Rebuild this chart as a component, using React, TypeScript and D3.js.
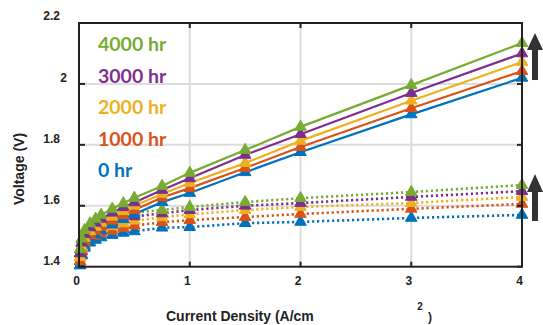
import React from 'react';
import * as d3 from 'd3';

const currents = [0.01, 0.025, 0.05, 0.1, 0.15, 0.2, 0.3, 0.4, 0.5, 0.75, 1, 1.5, 2, 3, 4];

const hours = ['0 hr', '1000 hr', '2000 hr', '3000 hr', '4000 hr'];
const colors = ['#0072BD', '#D95319', '#EDB120', '#7E2F8E', '#77AC30'];

// cell voltage (solid)
const cell0 = [1.405, 1.44, 1.468, 1.49, 1.505, 1.518, 1.538, 1.556, 1.573, 1.612, 1.642, 1.71, 1.776, 1.9, 2.02];
const cell1000 = [1.418, 1.453, 1.481, 1.503, 1.518, 1.531, 1.551, 1.569, 1.586, 1.627, 1.658, 1.724, 1.793, 1.92, 2.042];
const cell2000 = [1.431, 1.466, 1.494, 1.516, 1.531, 1.544, 1.564, 1.582, 1.6, 1.639, 1.675, 1.74, 1.813, 1.945, 2.072];
const cell3000 = [1.444, 1.479, 1.507, 1.529, 1.544, 1.557, 1.577, 1.595, 1.611, 1.652, 1.69, 1.767, 1.835, 1.97, 2.1];
const cell4000 = [1.457, 1.492, 1.52, 1.542, 1.557, 1.57, 1.59, 1.608, 1.626, 1.665, 1.708, 1.783, 1.859, 1.996, 2.134];

// iR-free voltage (dotted)
const irFree0 = [1.404, 1.437, 1.462, 1.479, 1.488, 1.496, 1.504, 1.511, 1.516, 1.528, 1.53, 1.543, 1.547, 1.56, 1.57];
const irFree1000 = [1.417, 1.45, 1.475, 1.492, 1.501, 1.509, 1.518, 1.527, 1.535, 1.546, 1.553, 1.563, 1.573, 1.59, 1.606];
const irFree2000 = [1.43, 1.463, 1.488, 1.505, 1.515, 1.523, 1.533, 1.542, 1.551, 1.562, 1.572, 1.586, 1.596, 1.609, 1.629];
const irFree3000 = [1.443, 1.476, 1.501, 1.518, 1.528, 1.537, 1.547, 1.556, 1.565, 1.575, 1.586, 1.6, 1.609, 1.629, 1.648];
const irFree4000 = [1.456, 1.489, 1.514, 1.531, 1.541, 1.55, 1.56, 1.569, 1.578, 1.586, 1.596, 1.612, 1.625, 1.645, 1.668];

const cellSeries = [cell0, cell1000, cell2000, cell3000, cell4000];
const irFreeSeries = [irFree0, irFree1000, irFree2000, irFree3000, irFree4000];

const xTicks = [0, 1, 2, 3, 4];
const yTicks = [1.4, 1.6, 1.8, 2, 2.2];

export default function App() {
  const W = 543, H = 325;
  const left = 79, right = 522, top = 23, bottom = 266.7;

  const x = d3.scaleLinear().domain([0, 4]).range([left, right]);
  const y = d3.scaleLinear().domain([1.4, 2.2]).range([bottom, top]);

  const line = d3.line<number>()
    .x((_, i) => x(currents[i]))
    .y((d) => y(d));

  const tri = d3.symbol(d3.symbolTriangle, 58)()!;

  const axisFont = '"Liberation Sans", Arial, sans-serif';

  const drawSeries = (vals: number[], color: string, dotted: boolean, key: string) => (
    <g key={key}>
      <path
        d={line(vals)!}
        fill="none"
        stroke={color}
        strokeWidth={dotted ? 2.6 : 2.2}
        strokeDasharray={dotted ? '2.2,2.8' : undefined}
      />
      {vals.map((v, i) => (
        <path
          key={i}
          d={tri}
          transform={`translate(${x(currents[i])},${y(v)})`}
          fill={color}
          stroke={color}
          strokeWidth={1}
        />
      ))}
    </g>
  );

  const arrow = (tipY: number, baseY: number, endY: number) => {
    const cx = 535;
    return (
      <path
        d={`M${cx},${tipY} L${cx + 8},${baseY} L${cx + 3},${baseY} L${cx + 3},${endY} L${cx - 3},${endY} L${cx - 3},${baseY} L${cx - 8},${baseY} Z`}
        fill="#333"
      />
    );
  };

  return (
    <svg width={W} height={H} style={{ position: 'absolute', left: 0, top: 0, background: '#fff' }}>
      <rect width={W} height={H} fill="#fff" />
      {/* grid */}
      {xTicks.slice(1, -1).map((t) => (
        <line key={'gx' + t} x1={x(t)} x2={x(t)} y1={top} y2={bottom} stroke="#dcdcdc" strokeWidth={2} />
      ))}
      {yTicks.slice(1, -1).map((t) => (
        <line key={'gy' + t} x1={left} x2={right} y1={y(t)} y2={y(t)} stroke="#dcdcdc" strokeWidth={2} />
      ))}

      {/* series */}
      {irFreeSeries.map((s, i) => drawSeries(s, colors[i], true, 'd' + i))}
      {cellSeries.map((s, i) => drawSeries(s, colors[i], false, 's' + i))}

      {/* frame + ticks */}
      <rect x={left} y={top} width={right - left} height={bottom - top} fill="none" stroke="#222" strokeWidth={2} />
      {xTicks.map((t) => (
        <g key={'tx' + t}>
          <line x1={x(t)} x2={x(t)} y1={bottom} y2={bottom - 5} stroke="#222" strokeWidth={2} />
          <line x1={x(t)} x2={x(t)} y1={top} y2={top + 5} stroke="#222" strokeWidth={2} />
          <text x={x(t) - 2.5} y={285} textAnchor="middle" fontFamily={axisFont} fontWeight="bold" fontSize={12} fill="#222">
            {t}
          </text>
        </g>
      ))}
      {yTicks.map((t) => (
        <g key={'ty' + t}>
          <line x1={left} x2={left + 6} y1={y(t)} y2={y(t)} stroke="#222" strokeWidth={2} />
          <line x1={right} x2={right - 5} y1={y(t)} y2={y(t)} stroke="#222" strokeWidth={2} />
          <text
            x={t === 2 ? 67 : 60}
            y={y(t) - (t === 2.2 ? 3 : 1.5)}
            textAnchor="end"
            fontFamily={axisFont}
            fontWeight="bold"
            fontSize={12}
            fill="#222"
          >
            {d3.format('~g')(t)}
          </text>
        </g>
      ))}

      {/* axis titles */}
      <text x={166} y={321} fontFamily={axisFont} fontWeight="bold" fontSize={14} fill="#222">
        Current Density (A/cm
      </text>
      <text x={420} y={310} textAnchor="middle" fontFamily={axisFont} fontWeight="bold" fontSize={10} fill="#222">
        2
      </text>
      <text x={428} y={321} fontFamily={axisFont} fontWeight="bold" fontSize={12} fill="#222">
        )
      </text>
      <text
        transform="translate(24,169) rotate(-90)"
        textAnchor="middle"
        fontFamily={axisFont}
        fontWeight="bold"
        fontSize={14}
        fill="#222"
      >
        Voltage (V)
      </text>

      {/* legend */}
      {hours.map((h, i) => (
        <text
          key={h}
          x={98}
          y={177 - i * 31.5}
          fontFamily="Lato, 'Open Sans', sans-serif"
          fontWeight="bold"
          fontSize={19.5}
          fill={colors[i]}
        >
          {h}
        </text>
      ))}

      {/* arrows */}
      {arrow(33, 50, 80)}
      {arrow(174, 192, 221)}
    </svg>
  );
}
